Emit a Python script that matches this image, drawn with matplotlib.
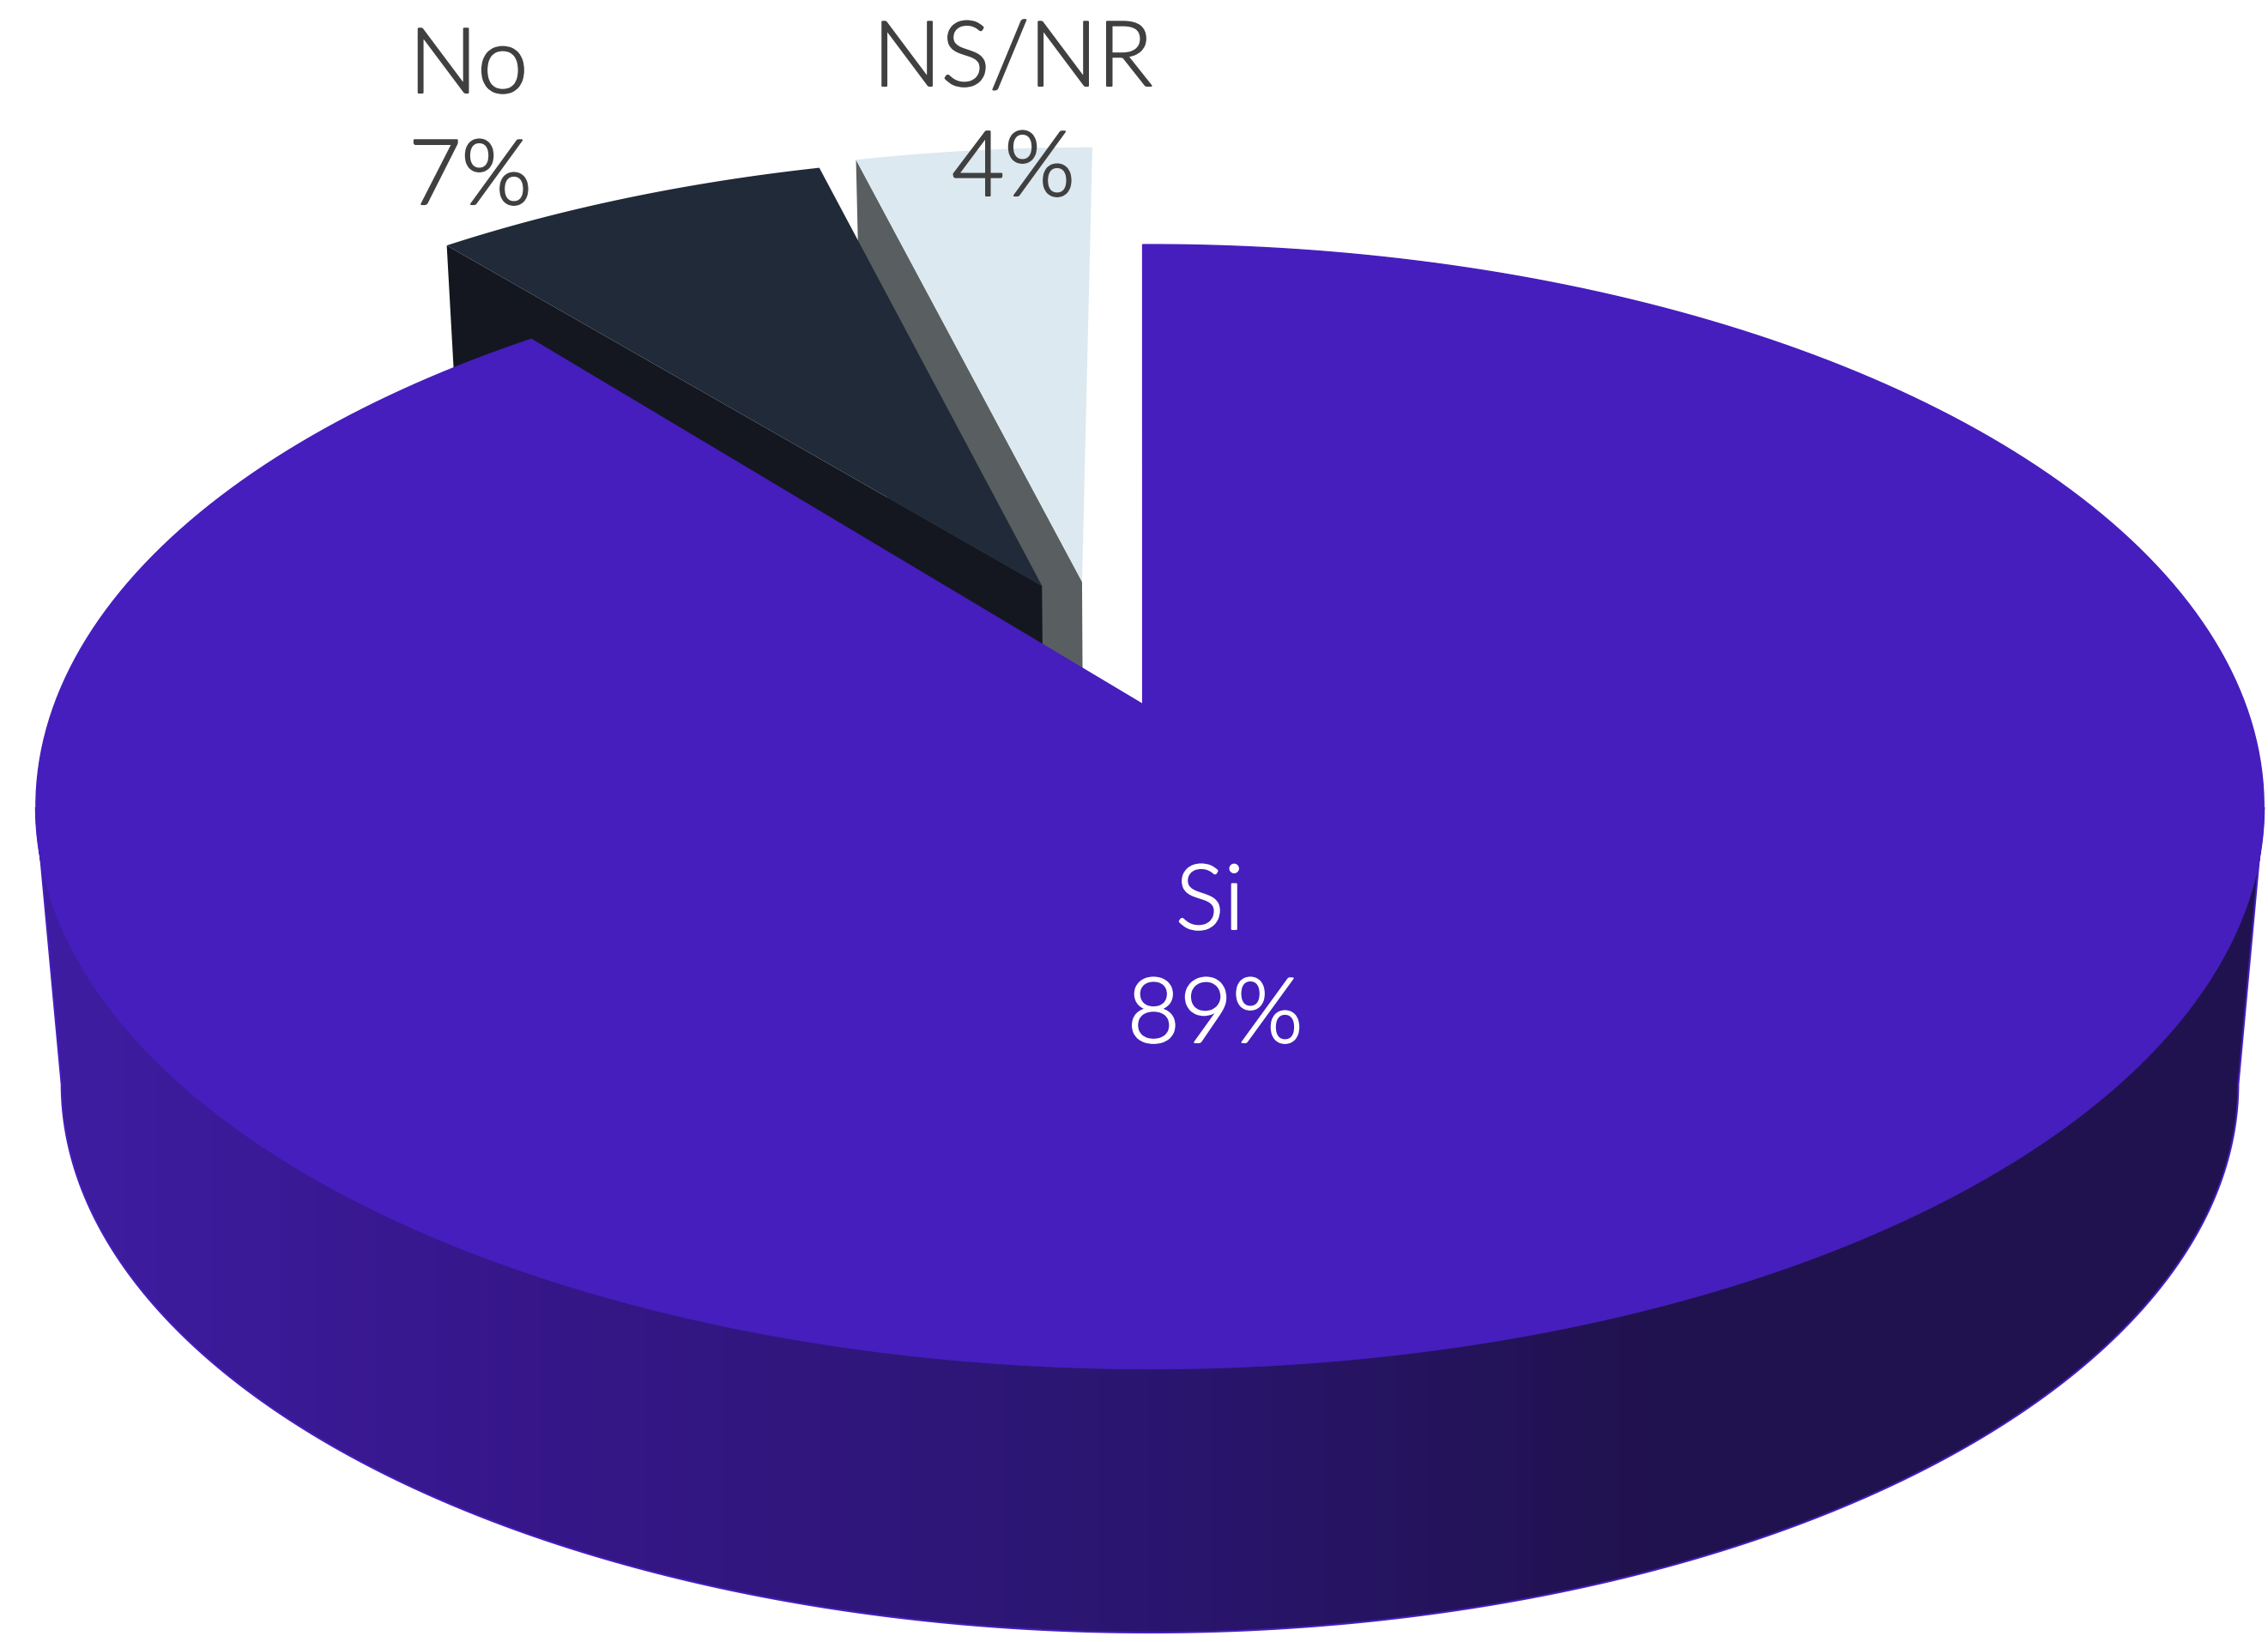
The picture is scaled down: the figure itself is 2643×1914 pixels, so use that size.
import numpy as np
import matplotlib
matplotlib.use('Agg')
import matplotlib.pyplot as plt
import matplotlib.patheffects as pe
from matplotlib.colors import LinearSegmentedColormap
from matplotlib.patches import Polygon

labels = ['Si', 'No', 'NS/NR']
values = [89, 7, 4]

plt.rcParams['font.family'] = ['Lato', 'DejaVu Sans']

# look of the pie, in pixels of the output
S = 2643 / 1568
CX, CY = 795 * S, 557.7 * S
C = 757.3 * S
A = 388.6 * S
B = 70.7 * S
K = -0.182
DEPTH = 191.6 * S
SHRINK = 0.977
ROT = -0.45
APEX_X = -0.0066
# explode offset on the disc, rim radius, rotation of both slice ends
EXPLODE = {'No': (-0.096, 0.227), 'NS/NR': (-0.058, 0.235)}
RADIUS = {'No': 1.012, 'NS/NR': 1.025}
TURN = {'No': (-0.35, -0.35), 'NS/NR': (-0.05, 0.45)}
TOP = {'Si': '#451EBD', 'No': '#202A38', 'NS/NR': '#DCE9F0'}
SIDE = {'No': '#14171F', 'NS/NR': '#595F60'}
TEXT_DARK = '#404040'


# unit disc -> picture, with the perspective of the original chart
def project(X, Y, z=0):
    d = 1 - K * Y
    scale = 1 - (1 - SHRINK) * z
    x = CX + C * scale * X / d
    y = CY - scale * (A * Y + B) / d + DEPTH * z
    return x, y


def rim(a0, a1, z=0, off=(0, 0), n=300, r=1):
    t = np.radians(np.linspace(a0, a1, n))
    return project(r * np.sin(t) + off[0], r * np.cos(t) + off[1], z)


def wedge_xy(a0, a1, off=(0, 0), r=1, apex_x=0):
    x, y = rim(a0, a1, 0, off, r=r)
    ax, ay = project(off[0] + apex_x, off[1])
    return np.r_[ax, x], np.r_[ay, y]


fig = plt.figure(figsize=(26.43, 19.14), dpi=100)
ax = fig.add_axes([0, 0, 1, 1])
ax.set_xlim(0, 2643)
ax.set_ylim(1914, 0)
ax.axis('off')

ends = np.cumsum(values) / sum(values) * 360
starts = np.r_[0, ends[:-1]]
angles = dict(zip(labels, zip(starts + ROT, ends + ROT)))

# the two small slices sit behind the big one, NS/NR first
for name in ['NS/NR', 'No']:
    a0, a1 = angles[name]
    a0 += TURN[name][0]
    a1 += TURN[name][1]
    off = (EXPLODE[name][0] + APEX_X, EXPLODE[name][1])
    r = RADIUS[name]
    # the wall that is visible is the cut at the start of the slice
    px, py = project(off[0], off[1])
    qx, qy = rim(a0, a0, 0, off, 1, r)
    bx, by = project(off[0], off[1], 1)
    rx, ry = rim(a0, a0, 1, off, 1, r)
    ax.add_patch(Polygon([[px, py], [qx[0], qy[0]], [rx[0], ry[0]], [bx, by]],
                         facecolor=SIDE[name], edgecolor='none', zorder=2))
    x, y = wedge_xy(a0, a1, off, r)
    ax.add_patch(Polygon(np.c_[x, y], facecolor=TOP[name], edgecolor='none', zorder=3))

# front wall of the big slice, with the left to right shading
tx, ty = rim(0, 360, 0, n=1440)
i_right, i_left = int(np.argmax(tx)), int(np.argmin(tx))
a_right, a_left = i_right / 1439 * 360, i_left / 1439 * 360
x0, y0 = rim(a_right, a_left, 0)
x1, y1 = rim(a_right, a_left, 1)
wall_xy = np.c_[np.r_[x0, x1[::-1]], np.r_[y0, y1[::-1]]]
wall = Polygon(wall_xy, facecolor='none', edgecolor='none', zorder=4)
ax.add_patch(wall)
shade = LinearSegmentedColormap.from_list('shade', [(0, '#3F1DA2'), (0.25, '#351686'),
                                                    (0.5, '#2A1670'), (0.72, '#21124F'),
                                                    (1, '#20124F')])
img = ax.imshow(np.linspace(0, 1, 512)[None, :], cmap=shade, aspect='auto', zorder=4,
                extent=[x0.min(), x0.max(), y1.max(), y0.min()])
img.set_clip_path(wall)
ax.add_patch(Polygon(wall_xy, facecolor='none', edgecolor=TOP['Si'], linewidth=1.5, zorder=4.5))
ax.set_xlim(0, 2643)
ax.set_ylim(1914, 0)

x, y = wedge_xy(*angles['Si'], apex_x=APEX_X)
# Si runs clockwise from the top over the front of the pie
ax.add_patch(Polygon(np.c_[x, y], facecolor=TOP['Si'], edgecolor=TOP['Si'], linewidth=1, zorder=5))

# labels: name and share on their own baselines
text_pos = {'Si': (1410, 1083, 1416, 1215), 'No': (546, 108, 548, 238), 'NS/NR': (1180, 100, 1181, 228)}
for name, val in zip(labels, values):
    x1_, y1_, x2_, y2_ = text_pos[name]
    col = 'white' if name == 'Si' else TEXT_DARK
    thick = [pe.withStroke(linewidth=1.5, foreground=col)]
    ax.text(x1_, y1_, name, ha='center', va='baseline', fontsize=76, color=col, zorder=6,
            fontweight=300, path_effects=thick)
    ax.text(x2_, y2_, f'{val}%', ha='center', va='baseline', fontsize=76, color=col, zorder=6,
            fontweight=300, path_effects=thick)

fig.savefig('out.png', dpi=100, facecolor='white')
